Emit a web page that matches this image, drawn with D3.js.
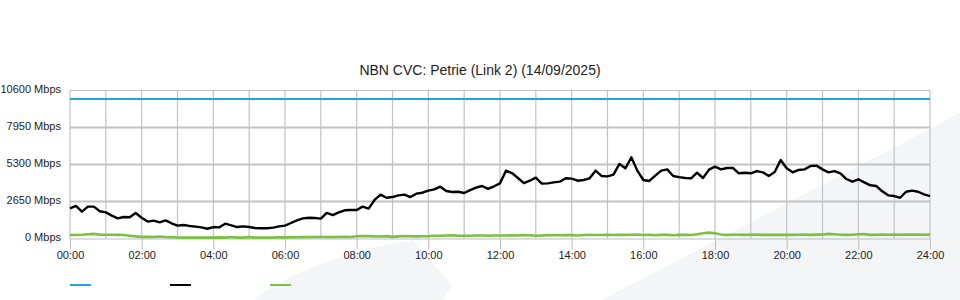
<!DOCTYPE html>
<html>
<head>
<meta charset="utf-8">
<script src="https://cdn.jsdelivr.net/npm/d3@7/dist/d3.min.js"></script>
<style>
  body { margin: 0; background: #fff; }
  svg text { font-family: "Liberation Sans", Arial, sans-serif; fill: #222; }
</style>
</head>
<body>
<svg id="chart" width="960" height="300"></svg>
<script>
const chartTitle = "NBN CVC: Petrie (Link 2) (14/09/2025)";

// samples are every 10 minutes from 00:00 to 24:00
const stepMinutes = 10;

const xTickLabels = ["00:00", "02:00", "04:00", "06:00", "08:00", "10:00", "12:00",
  "14:00", "16:00", "18:00", "20:00", "22:00", "24:00"];
const yTicks = [0, 2650, 5300, 7950, 10600];

// link capacity (Mbps) at start and end of day
const capacity = [10000, 10000];

// download traffic, Mbps
const download = [
  2160, 2330, 1920, 2280, 2280, 1950,
  1870, 1640, 1440, 1540, 1520, 1830,
  1490, 1210, 1280, 1160, 1300, 1090,
  920, 970, 900, 850, 800, 700,
  820, 800, 1060, 940, 820, 870,
  820, 750, 730, 730, 780, 870,
  920, 1110, 1300, 1440, 1490, 1470,
  1420, 1830, 1680, 1870, 2020, 2040,
  2040, 2280, 2140, 2760, 3140, 2920,
  2970, 3090, 3140, 2970, 3210, 3280,
  3430, 3520, 3710, 3400, 3330, 3350,
  3260, 3470, 3640, 3760, 3550, 3740,
  3950, 4860, 4690, 4330, 3970, 4140,
  4360, 3930, 3950, 4020, 4070, 4310,
  4290, 4140, 4190, 4310, 4860, 4480,
  4450, 4570, 5340, 5030, 5810, 4860,
  4190, 4120, 4500, 4860, 4950, 4480,
  4400, 4330, 4310, 4710, 4330, 4930,
  5150, 4950, 5050, 5050, 4670, 4710,
  4670, 4830, 4740, 4480, 4760, 5620,
  5030, 4740, 4910, 4950, 5190, 5220,
  4950, 4740, 4830, 4670, 4260, 4070,
  4240, 4020, 3810, 3760, 3380, 3090,
  3040, 2920, 3350, 3430, 3350, 3160,
  3040
];

// upload traffic, Mbps
const upload = [
  250, 250, 270, 300, 330, 280,
  270, 270, 260, 250, 200, 150,
  120, 120, 110, 140, 110, 90,
  70, 60, 60, 70, 60, 60,
  60, 80, 60, 110, 60, 60,
  100, 60, 60, 70, 60, 80,
  80, 80, 90, 100, 100, 110,
  110, 110, 100, 110, 120, 110,
  160, 180, 170, 150, 140, 170,
  120, 150, 180, 160, 150, 160,
  170, 200, 190, 210, 230, 200,
  200, 200, 210, 210, 200, 210,
  220, 210, 230, 220, 240, 230,
  200, 220, 240, 230, 230, 250,
  240, 220, 250, 260, 250, 250,
  260, 250, 260, 260, 270, 280,
  250, 270, 230, 260, 260, 230,
  260, 260, 250, 300, 380, 420,
  380, 290, 260, 270, 270, 260,
  270, 280, 260, 270, 260, 260,
  270, 260, 270, 280, 260, 280,
  290, 330, 300, 270, 260, 270,
  300, 310, 260, 270, 280, 270,
  280, 270, 290, 280, 280, 270,
  280
];

const colors = { capacity: "#1fa6e0", download: "#000000", upload: "#7bc043" };

function drawChart() {
  const svg = d3.select("#chart");
  const left = 70, right = 930, top = 90.5, bottom = 238.5;

  // faint watermark shapes in the background
  svg.append("path")
    .attr("d", "M253,300 C300,266 360,248 413,240 L452,286 L442,300 Z")
    .attr("fill", "#f4f5f7");
  svg.append("path")
    .attr("d", "M602,300 L960,113 L960,300 Z")
    .attr("fill", "#f4f5f7");

  const x = d3.scaleLinear().domain([0, 1440]).range([left, right]);
  const y = d3.scaleLinear().domain([0, 10600]).range([bottom, top]);

  // vertical grid, one per hour
  svg.append("g")
    .selectAll("line")
    .data(d3.range(0, 1441, 60))
    .enter().append("line")
    .attr("x1", d => x(d)).attr("x2", d => x(d))
    .attr("y1", top).attr("y2", bottom)
    .attr("stroke", "#c2c2c2")
    .attr("stroke-width", 1.2);

  // horizontal grid
  svg.append("g")
    .selectAll("line")
    .data(yTicks.slice(1))
    .enter().append("line")
    .attr("x1", left).attr("x2", right)
    .attr("y1", d => y(d)).attr("y2", d => y(d))
    .attr("stroke", "#c2c2c2")
    .attr("stroke-width", d => d === 10600 ? 1 : 2);

  // x axis
  const xAxis = svg.append("g")
    .attr("transform", "translate(0," + bottom + ")")
    .call(d3.axisBottom(x)
      .tickValues(xTickLabels.map((d, i) => i * 120))
      .tickFormat((d, i) => xTickLabels[i])
      .tickSize(11)
      .tickSizeOuter(0));
  xAxis.select(".domain").attr("stroke", "#bdbdbd");
  xAxis.selectAll(".tick line").attr("stroke", "#bdbdbd");
  xAxis.selectAll("text")
    .style("font-size", "11px")
    .attr("y", 13);

  // y axis labels
  const yAxis = svg.append("g")
    .attr("transform", "translate(" + left + ",0)")
    .call(d3.axisLeft(y).tickValues(yTicks).tickFormat(d => d + " Mbps").tickSize(0).tickPadding(9));
  yAxis.select(".domain").remove();
  yAxis.selectAll("text")
    .style("font-size", "11px")
    .attr("dy", "0.16em");

  const line = d3.line()
    .x((d, i) => x(i * stepMinutes))
    .y(d => y(d));

  svg.append("path")
    .datum(upload)
    .attr("d", line)
    .attr("fill", "none")
    .attr("stroke", colors.upload)
    .attr("stroke-width", 2.6);

  svg.append("path")
    .datum(download)
    .attr("d", line)
    .attr("fill", "none")
    .attr("stroke", colors.download)
    .attr("stroke-width", 2.4)
    .attr("stroke-linejoin", "round");

  // capacity line across the whole day
  svg.append("path")
    .datum(capacity)
    .attr("d", d3.line().x((d, i) => x(i * 1440)).y(d => y(d)))
    .attr("fill", "none")
    .attr("stroke", colors.capacity)
    .attr("stroke-width", 2);

  // title
  svg.append("text")
    .attr("x", 480)
    .attr("y", 75)
    .attr("text-anchor", "middle")
    .style("font-size", "14px")
    .text(chartTitle);

  // legend swatches (no labels)
  const legend = [colors.capacity, colors.download, colors.upload];
  svg.append("g")
    .selectAll("line")
    .data(legend)
    .enter().append("line")
    .attr("x1", (d, i) => 70 + i * 100)
    .attr("x2", (d, i) => 91 + i * 100)
    .attr("y1", 285).attr("y2", 285)
    .attr("stroke", d => d)
    .attr("stroke-width", 2);
}

drawChart();
</script>
</body>
</html>
